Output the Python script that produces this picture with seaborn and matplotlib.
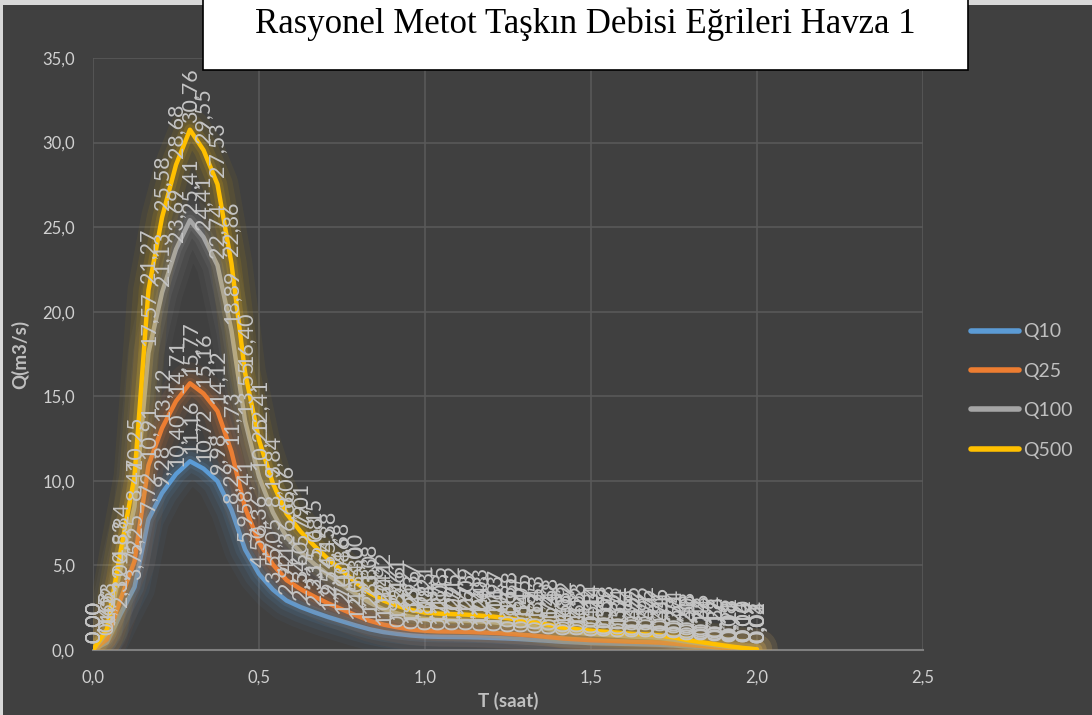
import numpy as np
import pandas as pd
import matplotlib
matplotlib.use("Agg")
import matplotlib.pyplot as plt
import matplotlib.patheffects as pe
from matplotlib.patches import Rectangle
from matplotlib.ticker import FuncFormatter, MultipleLocator
import seaborn as sns

# ---------------- data ----------------
T = [0.000, 0.042, 0.083, 0.125, 0.167, 0.208, 0.250, 0.292, 0.333, 0.375,
     0.417, 0.458, 0.500, 0.542, 0.583, 0.625, 0.667, 0.708, 0.750, 0.792,
     0.833, 0.875, 0.917, 0.958, 1.000, 1.042, 1.083, 1.125, 1.167, 1.208,
     1.250, 1.292, 1.333, 1.375, 1.417, 1.458, 1.500, 1.542, 1.583, 1.625,
     1.667, 1.708, 1.750, 1.792, 1.833, 1.875, 1.917, 1.958, 2.000]

Q10 = [0.00, 0.45, 2.12, 3.72, 7.72, 9.28, 10.40, 11.16, 10.72, 9.98,
       8.29, 5.95, 4.50, 3.57, 2.92, 2.54, 2.23, 1.95, 1.70, 1.45,
       1.23, 1.06, 0.95, 0.86, 0.80, 0.78, 0.77, 0.76, 0.74, 0.71,
       0.68, 0.64, 0.59, 0.54, 0.48, 0.45, 0.41, 0.39, 0.37, 0.35,
       0.33, 0.31, 0.27, 0.21, 0.17, 0.12, 0.08, 0.04, 0.01]

Q25 = [0.00, 0.63, 3.00, 5.25, 10.91, 13.12, 14.71, 15.77, 15.16, 14.12,
       11.73, 8.41, 6.36, 5.05, 4.13, 3.60, 3.15, 2.76, 2.40, 2.05,
       1.73, 1.50, 1.34, 1.21, 1.14, 1.10, 1.09, 1.07, 1.04, 1.01,
       0.96, 0.90, 0.84, 0.76, 0.68, 0.63, 0.58, 0.55, 0.52, 0.49,
       0.47, 0.44, 0.38, 0.30, 0.24, 0.17, 0.11, 0.06, 0.02]

Q100 = [0.00, 1.02, 4.83, 8.47, 17.57, 21.13, 23.69, 25.41, 24.41, 22.74,
        18.89, 13.55, 10.25, 8.13, 6.66, 5.79, 5.08, 4.45, 3.86, 3.30,
        2.80, 2.41, 2.16, 1.96, 1.83, 1.78, 1.75, 1.73, 1.68, 1.63,
        1.55, 1.45, 1.35, 1.22, 1.09, 1.02, 0.94, 0.89, 0.84, 0.79,
        0.76, 0.71, 0.61, 0.48, 0.38, 0.28, 0.18, 0.10, 0.03]

Q500 = [0.00, 1.23, 5.84, 10.25, 21.27, 25.58, 28.68, 30.76, 29.55, 27.53,
        22.86, 16.40, 12.41, 9.84, 8.06, 7.01, 6.15, 5.38, 4.68, 4.00,
        3.38, 2.92, 2.61, 2.37, 2.21, 2.15, 2.12, 2.09, 2.03, 1.97,
        1.88, 1.75, 1.63, 1.48, 1.32, 1.23, 1.14, 1.08, 1.02, 0.95,
        0.92, 0.86, 0.74, 0.58, 0.46, 0.34, 0.22, 0.12, 0.04]

SERIES = ["Q10", "Q25", "Q100", "Q500"]
COLORS = ["#5B9BD5", "#ED7D31", "#A5A5A5", "#FFC000"]
TITLE = "Rasyonel Metot Taşkın Debisi Eğrileri Havza 1"
XLABEL = "T (saat)"
YLABEL = "Q(m3/s)"

df = pd.DataFrame({"T": T, "Q10": Q10, "Q25": Q25, "Q100": Q100, "Q500": Q500})
long = df.melt(id_vars="T", var_name="Seri", value_name="Q")

# ---------------- style ----------------
BG = "#404040"
TXT = "#BFBFBF"
sns.set_style("dark", {"axes.facecolor": BG, "figure.facecolor": BG})
plt.rcParams["font.family"] = ["Lato", "DejaVu Sans"]

fig = plt.figure(figsize=(10.92, 7.15), dpi=100, facecolor="#D9D9D9")
fig.patches.append(Rectangle((3 / 1092, 0), 1, 1 - 5 / 715, transform=fig.transFigure,
                             facecolor=BG, edgecolor="none", zorder=-10))
ax = fig.add_axes([93 / 1092, 1 - 650 / 715, 830 / 1092, 592 / 715])
ax.set_facecolor(BG)

for name, col in zip(SERIES, COLORS):
    sub = long[long["Seri"] == name]
    sns.lineplot(data=sub, x="T", y="Q", ax=ax, color=col, linewidth=3.2,
                 label=name, sort=False, zorder=3)
    line = ax.get_lines()[-1]
    line.set_solid_capstyle("round")
    line.set_solid_joinstyle("round")
    line.set_path_effects([
        pe.Stroke(linewidth=30, foreground=col, alpha=0.05, joinstyle="round"),
        pe.Stroke(linewidth=22, foreground=col, alpha=0.07, joinstyle="round"),
        pe.Stroke(linewidth=14, foreground=col, alpha=0.10, joinstyle="round"),
        pe.Stroke(linewidth=8, foreground=col, alpha=0.14, joinstyle="round"),
        pe.Normal(),
    ])

# data labels
for name in SERIES:
    for t, q in zip(df["T"], df[name]):
        ax.annotate(f"{q:.2f}".replace(".", ","), (t, q), xytext=(0, 5),
                    textcoords="offset points", rotation=90, ha="center",
                    va="bottom", fontsize=15.5, color="#C4C4C4", zorder=5,
                    annotation_clip=False)

ax.set_xlim(0, 2.5)
ax.set_ylim(0, 35)
ax.xaxis.set_major_locator(MultipleLocator(0.5))
ax.yaxis.set_major_locator(MultipleLocator(5))
fmt = FuncFormatter(lambda v, p: f"{v:.1f}".replace(".", ","))
ax.xaxis.set_major_formatter(fmt)
ax.yaxis.set_major_formatter(fmt)
ax.grid(True, color="#595959", linewidth=1.2)
ax.set_axisbelow(True)
for s in ["top", "right", "left"]:
    ax.spines[s].set_visible(False)
ax.spines["bottom"].set_color("#7F7F7F")
ax.spines["bottom"].set_linewidth(1.5)
ax.tick_params(axis="both", length=0, colors="#D0D0D0", labelsize=12)
ax.tick_params(axis="y", pad=13)
ax.tick_params(axis="x", pad=14)

ax.set_xlabel(XLABEL, fontsize=13.5, fontweight="bold", color=TXT)
ax.set_ylabel(YLABEL, fontsize=13.5, fontweight="bold", color=TXT)
ax.xaxis.set_label_coords(0.5, -0.07)
ax.yaxis.set_label_coords(-0.077, 0.5)

leg = ax.legend(loc="center left", bbox_to_anchor=(963 / 1092, 1 - 391 / 715),
                bbox_transform=fig.transFigure, frameon=False, fontsize=14,
                handlelength=2.5, handletextpad=0.2, labelspacing=1.15,
                borderaxespad=0)
for txt in leg.get_texts():
    txt.set_color(TXT)
for h in leg.legend_handles:
    h.set_linewidth(4)
    h.set_path_effects([])
    h.set_solid_capstyle("round")

# title box
fig.patches.append(Rectangle((203 / 1092, 1 - 70 / 715), 765 / 1092, 75 / 715,
                             transform=fig.transFigure, facecolor="white",
                             edgecolor="black", linewidth=1.2, zorder=10))
fig.text(585 / 1092, 1 - 24 / 715, TITLE, ha="center", va="center",
         fontsize=25, family=["Liberation Serif", "DejaVu Serif"], color="black",
         zorder=11)

fig.savefig("out.png", dpi=100, facecolor=fig.get_facecolor())
